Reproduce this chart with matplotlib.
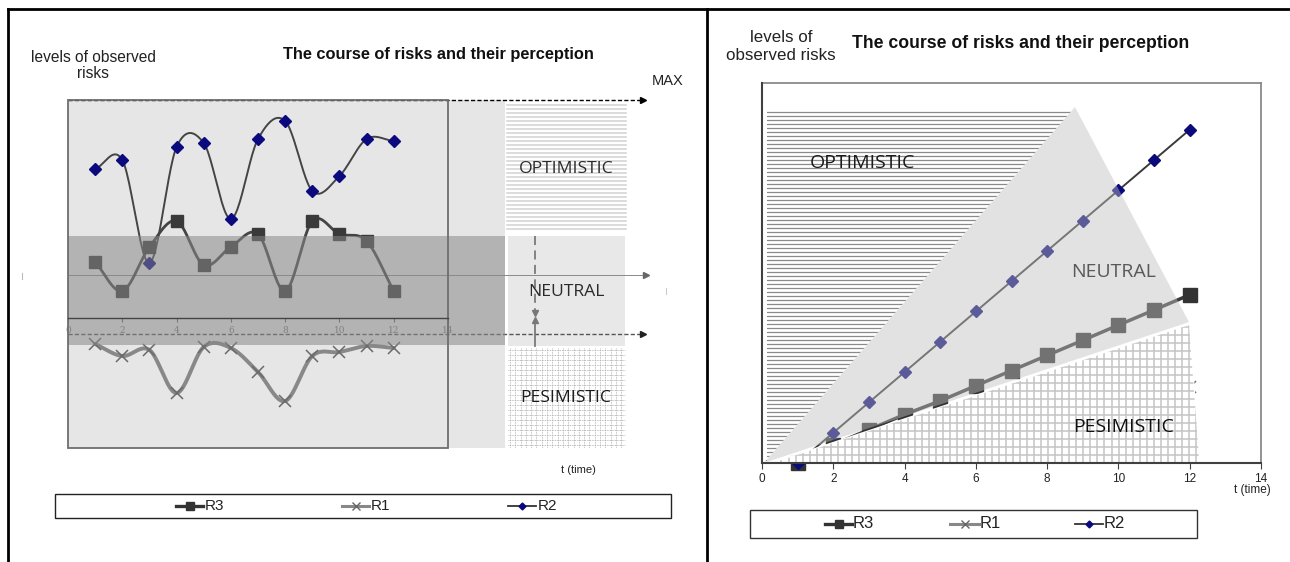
import numpy as np
import matplotlib
matplotlib.use("Agg")
import matplotlib.pyplot as plt
from matplotlib.patches import Rectangle, Polygon

# ---------------- data ----------------
t = [1, 2, 3, 4, 5, 6, 7, 8, 9, 10, 11, 12]
# left chart (course of risks)
left_r2 = [14.9, 15.8, 5.5, 17.1, 17.5, 9.9, 17.9, 19.7, 12.7, 14.2, 17.9, 17.7]
left_r3 = [5.6, 2.7, 7.1, 9.7, 5.3, 7.1, 8.4, 2.7, 9.7, 8.4, 7.7, 2.7]
left_r1 = [-2.6, -3.8, -3.2, -7.5, -2.9, -3.0, -5.4, -8.3, -3.8, -3.4, -2.8, -3.0]
# right chart (perception)
right_r2 = [0, 1, 2, 3, 4, 5, 6, 7, 8, 9, 10, 11]
right_r3 = [0.0, 0.6, 1.1, 1.6, 2.05, 2.55, 3.05, 3.55, 4.05, 4.55, 5.05, 5.55]
right_r1 = [0.0, 0.23, 0.45, 0.68, 0.9, 1.15, 1.35, 1.6, 1.8, 2.05, 2.25, 2.5]
series_names = ["R3", "R1", "R2"]
x_ticks = [0, 2, 4, 6, 8, 10, 12, 14]
zone_labels = ["OPTIMISTIC", "NEUTRAL", "PESIMISTIC"]
title = "The course of risks and their perception"

# zone geometry (chart data units)
left_neutral_band = (-2.7, 8.2)
right_opt_zone = [(0.14, 11.65), (8.71, 11.65), (0.05, 0.0), (0.14, 0.0)]
right_neu_zone = [(8.78, 11.75), (11.98, 4.65), (0.05, 0.0)]
right_pes_zone = [(0.3, 0.0), (11.98, 4.55), (12.27, 0.0)]

W, H = 1290, 562
fig = plt.figure(figsize=(W / 100, H / 100), dpi=100)
fig.patch.set_facecolor("white")

bg = fig.add_axes([0, 0, 1, 1], zorder=0)
bg.set_xlim(0, W)
bg.set_ylim(H, 0)
bg.axis("off")


def px_rect(x0, y0, x1, y1):
    return [x0 / W, 1 - y1 / H, (x1 - x0) / W, (y1 - y0) / H]


def smooth(x, y, n=24):
    P = np.column_stack([np.asarray(x, float), np.asarray(y, float)])
    P = np.vstack([2 * P[0] - P[1], P, 2 * P[-1] - P[-2]])
    out = []
    s = np.linspace(0, 1, n, endpoint=False)[:, None]
    for i in range(1, len(P) - 2):
        p0, p1, p2, p3 = P[i - 1], P[i], P[i + 1], P[i + 2]
        out.append(0.5 * (2 * p1 + (-p0 + p2) * s
                          + (2 * p0 - 5 * p1 + 4 * p2 - p3) * s ** 2
                          + (-p0 + 3 * p1 - 3 * p2 + p3) * s ** 3))
    out.append(P[-2][None, :])
    a = np.vstack(out)
    return a[:, 0], a[:, 1]


SANS = "Liberation Sans"
ZONEF = "Open Sans"

# ---------------- outer frame ----------------
bg.plot([8, W], [9, 9], color="black", lw=2)
bg.plot([8, 8], [9, H], color="black", lw=2)
bg.plot([707, 707], [9, H], color="black", lw=2)

# ================= LEFT PANEL =================
bg.text(93, 57, "levels of observed", ha="center", va="center", fontsize=11.2, family=SANS, color="#222")
bg.text(93, 74, "risks", ha="center", va="center", fontsize=11.2, family=SANS, color="#222")
bg.text(438, 55, title, ha="center", va="center", fontsize=11.8, family=SANS, weight="bold", color="#111")
bg.text(668, 81, "MAX", ha="center", va="center", fontsize=10.5, family=SANS, color="#222")

# background light area
bg.add_patch(Rectangle((68, 100), 505 - 68, 348, facecolor="#e6e6e6", edgecolor="none", zorder=0))
# right boxes
bg.add_patch(Rectangle((507, 103), 119, 130, facecolor="white", edgecolor="none", zorder=0.5))
for yy in np.arange(105, 233, 4.0):
    bg.plot([507, 626], [yy, yy], color="#d2d2d2", lw=1.1, zorder=0.6)
bg.add_patch(Rectangle((508, 236), 117, 110, facecolor="#e8e8e8", edgecolor="none", zorder=0.5))
for xx in np.arange(510, 625, 5.3):
    bg.plot([xx, xx], [348, 448], color="#aaaaaa", lw=0.6, ls=(0, (1, 1)), zorder=0.6)
for yy in np.arange(350, 448, 5.0):
    bg.plot([508, 625], [yy, yy], color="#aaaaaa", lw=0.6, ls=(0, (1, 1)), zorder=0.6)

# arrows
bg.plot([68, 642], [100, 100], color="black", lw=1, ls=(0, (3, 1.6)), zorder=3)
bg.plot([643], [100], marker=">", color="black", ms=5, zorder=3)
bg.plot([68, 644], [275, 275], color="#8a8a8a", lw=0.7, zorder=0.8)
bg.plot([646], [275], marker=">", color="#666", ms=5, zorder=0.8)
bg.plot([68, 642], [334, 334], color="#555", lw=1, ls=(0, (3, 1.6)), zorder=0.8)
bg.plot([643], [334], marker=">", color="#222", ms=5, zorder=0.8)
# neutral double arrow
bg.plot([535, 535], [236, 311], color="#7a7a7a", lw=1.3, ls=(0, (5, 3)), zorder=1)
bg.plot([535], [313], marker="v", color="#777", ms=5, zorder=1)
bg.plot([535, 535], [322, 346], color="#7a7a7a", lw=1.3, zorder=1)
bg.plot([535], [320], marker="^", color="#777", ms=5, zorder=1)
# tiny marks
bg.plot([22, 22], [273, 279], color="#bbb", lw=0.8)
bg.plot([666, 666], [288, 294], color="#ccc", lw=0.8)

bg.text(566, 169, zone_labels[0], ha="center", va="center", fontsize=12.6, family=ZONEF, color="#2a2a2a", zorder=2)
bg.text(566, 292, zone_labels[1], ha="center", va="center", fontsize=12.6, family=ZONEF, color="#2a2a2a", zorder=2)
bg.text(566, 398, zone_labels[2], ha="center", va="center", fontsize=12.6, family=ZONEF, color="#1a1a1a", zorder=2)
bg.text(578, 470, "t (time)", ha="center", va="center", fontsize=8, family=SANS, color="#222")

# left data axes
axL = fig.add_axes(px_rect(68, 100, 448, 448), zorder=1)
axL.patch.set_visible(False)
axL.set_xlim(0, 14)
axL.set_ylim(-13, 21.8)
for s in ["top", "left", "right"]:
    axL.spines[s].set_visible(False)
axL.spines["bottom"].set_position(("data", 0))
axL.spines["bottom"].set_color("#444")
axL.spines["bottom"].set_linewidth(1.0)
axL.spines["bottom"].set_zorder(3)
axL.add_patch(Rectangle((0, 0), 1, 1, transform=axL.transAxes, fill=False,
                        edgecolor="#6e6e6e", lw=1.3, zorder=3, clip_on=False))
axL.set_yticks([])
axL.set_xticks(x_ticks)
axL.set_xticklabels([str(v) for v in x_ticks], family="DejaVu Serif", fontsize=6.5, color="#777")
axL.tick_params(axis="x", length=3, color="#666", pad=3)

xs, ys = smooth(t, left_r1)
axL.plot(xs, ys, color="#888", lw=2.8, zorder=1, solid_capstyle="round")
axL.plot(t, left_r1, ls="none", marker="x", ms=9, mew=1.1, color="#6a6a6a", zorder=1.2)
xs, ys = smooth(t, left_r3)
axL.plot(xs, ys, color="#444", lw=2.0, zorder=1)
axL.plot(t, left_r3, ls="none", marker="s", ms=9, color="#3a3a3a", zorder=1.2)
xs, ys = smooth(t, left_r2)
axL.plot(xs, ys, color="#444", lw=1.4, zorder=1)
axL.plot(t, left_r2, ls="none", marker="D", ms=6, color="#0a0a7e", zorder=1.2)

# neutral overlay band (semi transparent, on top of series)
x_band_end = (505 - 68) / 380 * 14
axL.add_patch(Rectangle((0, left_neutral_band[0]), x_band_end,
                        left_neutral_band[1] - left_neutral_band[0],
                        facecolor="#898989", alpha=0.54, edgecolor="none",
                        zorder=2, clip_on=False))

# left legend
bg.add_patch(Rectangle((55, 494), 616, 24, facecolor="white", edgecolor="#222", lw=1.0, zorder=1))
ly = 506
bg.plot([176, 203], [ly, ly], color="#333", lw=2.4, zorder=2)
bg.plot([189.5], [ly], marker="s", color="#333", ms=5.5, zorder=2)
bg.text(205, ly, series_names[0], va="center", ha="left", fontsize=11, family=SANS, color="#222")
bg.plot([342, 369], [ly, ly], color="#888", lw=2.2, zorder=2)
bg.plot([355.5], [ly], marker="x", color="#666", ms=5.5, mew=1, zorder=2)
bg.text(371, ly, series_names[1], va="center", ha="left", fontsize=11, family=SANS, color="#222")
bg.plot([508, 536], [ly, ly], color="#333", lw=1.3, zorder=2)
bg.plot([522], [ly], marker="D", color="#0a0a7e", ms=3.5, zorder=2)
bg.text(538, ly, series_names[2], va="center", ha="left", fontsize=11, family=SANS, color="#222")

# ================= RIGHT PANEL =================
bg.text(781, 37, "levels of", ha="center", va="center", fontsize=12.2, family=SANS, color="#222")
bg.text(781, 56, "observed risks", ha="center", va="center", fontsize=12.2, family=SANS, color="#222")
bg.text(1021, 43, title, ha="center", va="center", fontsize=12.7, family=SANS, weight="bold", color="#111")
bg.text(1271, 490, "t (time)", ha="right", va="center", fontsize=8.5, family=SANS, color="#222")

axR = fig.add_axes(px_rect(762, 83, 1261, 463), zorder=1)
axR.set_facecolor("white")
axR.set_xlim(0, 14)
axR.set_ylim(0, 12.54)
for s in ["top", "right"]:
    axR.spines[s].set_color("#8a8a8a")
    axR.spines[s].set_linewidth(1.3)
for s in ["bottom", "left"]:
    axR.spines[s].set_color("#404040")
    axR.spines[s].set_linewidth(1.5)
    axR.spines[s].set_zorder(8)
axR.set_yticks([])
axR.set_xticks(x_ticks)
axR.set_xticklabels([str(v) for v in x_ticks], family=SANS, fontsize=8.5, color="#222")
axR.tick_params(axis="x", length=4, color="#404040", pad=3)

axR.plot(t, right_r1, color="#888", lw=2.5, zorder=3)
axR.plot(t, right_r1, ls="none", marker="x", ms=9, mew=1.1, color="#6a6a6a", zorder=3.2, clip_on=False)
axR.plot(t, right_r3, color="#3a3a3a", lw=2.5, zorder=3)
axR.plot(t, right_r3, ls="none", marker="s", ms=9.5, color="#333", zorder=3.2, clip_on=False)
axR.plot(t, right_r2, color="#3a3a3a", lw=1.4, zorder=3)
axR.plot(t, right_r2, ls="none", marker="D", ms=6.2, color="#0a0a7a", zorder=3.2, clip_on=False)

neu = Polygon(right_neu_zone, closed=True, facecolor="#c0c0c0", alpha=0.45, edgecolor="none", zorder=5)
axR.add_patch(neu)
opt = Polygon(right_opt_zone, closed=True, facecolor="white", edgecolor="none", zorder=5.5)
axR.add_patch(opt)
hl = axR.hlines(np.arange(0.1, 11.7, 0.132), 0, 9, colors="#8a8a8a", lw=0.9, zorder=5.6)
hl.set_clip_path(opt)
pes = Polygon(right_pes_zone, closed=True, facecolor="white", edgecolor="white", lw=1.5, zorder=6)
axR.add_patch(pes)
vl = axR.vlines(np.arange(0.35, 12.3, 0.197), 0, 5, colors="#c4c4c4", lw=1.1, zorder=6.1)
vl.set_clip_path(pes)
hl2 = axR.hlines(np.arange(0.26, 4.7, 0.264), 0, 12.5, colors="#c4c4c4", lw=1.1, zorder=6.1)
hl2.set_clip_path(pes)

fig.text(862 / W, 1 - 163 / H, zone_labels[0], ha="center", va="center", fontsize=14, family=ZONEF, color="#1a1a1a", zorder=5)
fig.text(1114 / W, 1 - 272 / H, zone_labels[1], ha="center", va="center", fontsize=14, family=ZONEF, color="#595959", zorder=5)
fig.text(1124 / W, 1 - 427 / H, zone_labels[2], ha="center", va="center", fontsize=14, family=ZONEF, color="#111", zorder=5)

# right legend
bg.add_patch(Rectangle((750, 510), 447, 28, facecolor="white", edgecolor="#333", lw=1.0, zorder=1))
ry = 524
bg.plot([825, 852], [ry, ry], color="#333", lw=2.4, zorder=2)
bg.plot([838.5], [ry], marker="s", color="#333", ms=5.5, zorder=2)
bg.text(853, ry, series_names[0], va="center", ha="left", fontsize=12, family=SANS, color="#222")
bg.plot([950, 979], [ry, ry], color="#888", lw=2.2, zorder=2)
bg.plot([964.5], [ry], marker="x", color="#666", ms=5.5, mew=1, zorder=2)
bg.text(980, ry, series_names[1], va="center", ha="left", fontsize=12, family=SANS, color="#222")
bg.plot([1075, 1103], [ry, ry], color="#333", lw=1.3, zorder=2)
bg.plot([1089], [ry], marker="D", color="#0a0a7e", ms=3.5, zorder=2)
bg.text(1104, ry, series_names[2], va="center", ha="left", fontsize=12, family=SANS, color="#222")

fig.savefig("out.png", dpi=100)
